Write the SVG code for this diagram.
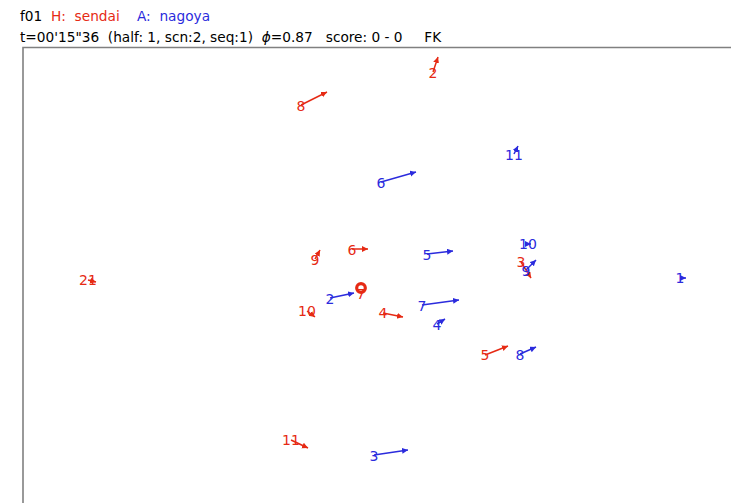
<svg xmlns="http://www.w3.org/2000/svg" width="731" height="503" viewBox="0 0 731 503">
<style>
text{font-family:"DejaVu Sans",sans-serif;font-size:13.7px;white-space:pre}
.h{fill:#e62a14}.a{fill:#2b2bdd}.k{fill:#000}
.lbl{text-anchor:middle;font-size:14px}
.rl{stroke:#e62a14;stroke-width:1.5;fill:none;marker-end:url(#mr)}
.bl{stroke:#2b2bdd;stroke-width:1.5;fill:none;marker-end:url(#mb)}
</style>
<defs>
<marker id="mr" markerUnits="userSpaceOnUse" markerWidth="8" markerHeight="8" refX="6" refY="3" orient="auto"><path d="M0,0 L6,3 L0,6 z" fill="#e62a14"/></marker>
<marker id="mb" markerUnits="userSpaceOnUse" markerWidth="8" markerHeight="8" refX="6" refY="3" orient="auto"><path d="M0,0 L6,3 L0,6 z" fill="#2b2bdd"/></marker>
</defs>
<rect width="731" height="503" fill="#fff"/>
<g id="header">
<text x="20" y="21" class="k" xml:space="preserve">f01</text>
<text x="51" y="21" class="h" xml:space="preserve">H:  sendai</text>
<text x="137" y="21" class="a" xml:space="preserve">A:  nagoya</text>
<text x="20" y="42" class="k" xml:space="preserve">t=00'15"36  (half: 1, scn:2, seq:1)  <tspan font-style="italic">ϕ</tspan>=0.87   score: 0 - 0     FK</text>
</g>
<g id="field"><path d="M23,503 L23,47.5 L731,47.5" fill="none" stroke="#808080" stroke-width="1.6"/></g>
<g id="connectors">
<line class="rl" x1="433" y1="72" x2="438" y2="57"/>
<line class="rl" x1="301" y1="105" x2="327" y2="92"/>
<line class="rl" x1="315" y1="259" x2="320" y2="250"/>
<line class="rl" x1="352" y1="249" x2="368" y2="249"/>
<line class="rl" x1="88" y1="280" x2="96" y2="282"/>
<line class="rl" x1="307" y1="311" x2="315" y2="317"/>
<line class="rl" x1="383" y1="313" x2="403" y2="317"/>
<line class="rl" x1="521" y1="262" x2="531" y2="278"/>
<line class="rl" x1="485" y1="355" x2="508" y2="346"/>
<line class="rl" x1="291" y1="440" x2="308" y2="448"/>
<line class="bl" x1="514" y1="154" x2="518" y2="146"/>
<line class="bl" x1="381" y1="182" x2="416" y2="172"/>
<line class="bl" x1="528" y1="244" x2="531" y2="244"/>
<line class="bl" x1="427" y1="254" x2="453" y2="251"/>
<line class="bl" x1="526" y1="270" x2="536" y2="260"/>
<line class="bl" x1="680" y1="278" x2="686" y2="278"/>
<line class="bl" x1="330" y1="298" x2="354" y2="293"/>
<line class="bl" x1="422" y1="305" x2="459" y2="300"/>
<line class="bl" x1="437" y1="324" x2="445" y2="319"/>
<line class="bl" x1="520" y1="354" x2="536" y2="347"/>
<line class="bl" x1="374" y1="455" x2="408" y2="450"/>
</g>
<g id="ball"><circle cx="361" cy="288" r="4.3" fill="none" stroke="#e62a14" stroke-width="3.2"/></g>
<g id="h2"><text class="h lbl" x="433" y="78">2</text></g>
<g id="h8"><text class="h lbl" x="301" y="111">8</text></g>
<g id="h9"><text class="h lbl" x="315" y="265">9</text></g>
<g id="h6"><text class="h lbl" x="352" y="255">6</text></g>
<g id="h21"><text class="h lbl" x="88" y="285">21</text></g>
<g id="h10"><text class="h lbl" x="307" y="316">10</text></g>
<g id="h7"><text class="h lbl" x="361" y="299">7</text></g>
<g id="h4"><text class="h lbl" x="383" y="318">4</text></g>
<g id="h3"><text class="h lbl" x="521" y="267">3</text></g>
<g id="h5"><text class="h lbl" x="485" y="360">5</text></g>
<g id="h11"><text class="h lbl" x="291" y="445">11</text></g>
<g id="a11"><text class="a lbl" x="514" y="160">11</text></g>
<g id="a6"><text class="a lbl" x="381" y="188">6</text></g>
<g id="a10"><text class="a lbl" x="528" y="249">10</text></g>
<g id="a5"><text class="a lbl" x="427" y="260">5</text></g>
<g id="a9"><text class="a lbl" x="526" y="276">9</text></g>
<g id="a1"><text class="a lbl" x="680" y="283">1</text></g>
<g id="a2"><text class="a lbl" x="330" y="304">2</text></g>
<g id="a7"><text class="a lbl" x="422" y="311">7</text></g>
<g id="a4"><text class="a lbl" x="437" y="330">4</text></g>
<g id="a8"><text class="a lbl" x="520" y="360">8</text></g>
<g id="a3"><text class="a lbl" x="374" y="461">3</text></g>
</svg>
